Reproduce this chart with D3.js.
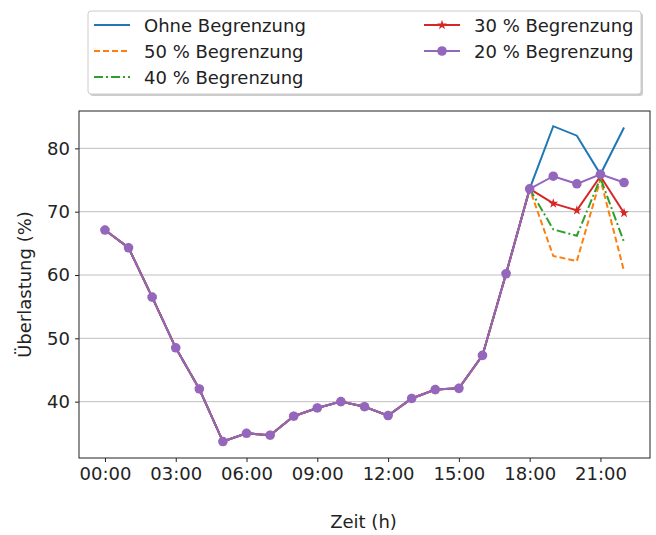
<!DOCTYPE html>
<html>
<head>
<meta charset="utf-8">
<script src="https://d3js.org/d3.v7.min.js"></script>
<style>
    html, body { margin: 0; padding: 0; background: #fff; }
    svg { display: block; font-family: "DejaVu Sans", sans-serif; }
    .grid line { stroke: #b0b0b0; stroke-width: 0.8; }
    .axis text { font-size: 18px; fill: #222; font-family: "DejaVu Sans", sans-serif; }
    .axis path, .axis line { stroke: #222; }
</style>
</head>
<body>
<div id="chart"></div>
<script>
    // hours 0..22
    var hours = d3.range(0, 23);
    var tickHours = [0, 3, 6, 9, 12, 15, 18, 21];
    var tickLabels = ["00:00", "03:00", "06:00", "09:00", "12:00", "15:00", "18:00", "21:00"];
    var yTicks = [40, 50, 60, 70, 80];

    // common part up to 18:00
    var base = [67.1, 64.3, 56.5, 48.5, 42.0, 33.7, 35.0, 34.7, 37.7, 39.0, 40.0, 39.2,
                37.8, 40.5, 41.9, 42.1, 47.3, 60.2, 73.6];
    var ohne = base.concat([83.5, 82.0, 75.9, 83.3]);
    var b50 = base.concat([63.0, 62.2, 75.1, 60.6]);
    var b40 = base.concat([67.2, 66.2, 75.3, 65.2]);
    var b30 = base.concat([71.3, 70.2, 75.6, 69.8]);
    var b20 = base.concat([75.6, 74.4, 75.9, 74.6]);

    var series = [
        {name: "Ohne Begrenzung", values: ohne, color: "#1f77b4", dash: null, marker: null},
        {name: "50 % Begrenzung", values: b50, color: "#ff7f0e", dash: "6,3", marker: null},
        {name: "40 % Begrenzung", values: b40, color: "#2ca02c", dash: "9,3,2,3", marker: null},
        {name: "30 % Begrenzung", values: b30, color: "#d62728", dash: null, marker: "star"},
        {name: "20 % Begrenzung", values: b20, color: "#9467bd", dash: null, marker: "circle"}
    ];

    var width = 656, height = 535;
    var mLeft = 79, mRight = 650, mTop = 111, mBottom = 458;

    var svg = d3.select("#chart").append("svg")
        .attr("width", width).attr("height", height);

    var x = d3.scaleLinear().domain([-1.1, 23.1]).range([mLeft, mRight]);
    var y = d3.scaleLinear().domain([31.1, 85.9]).range([mBottom, mTop]);

    // grid
    svg.append("g").attr("class", "grid")
        .selectAll("line").data(yTicks).enter().append("line")
        .attr("x1", mLeft).attr("x2", mRight)
        .attr("y1", function (d) { return y(d); })
        .attr("y2", function (d) { return y(d); });

    // axes
    var xAxis = d3.axisBottom(x).tickValues(tickHours)
        .tickFormat(function (d, i) { return tickLabels[i]; })
        .tickSize(4).tickPadding(5);
    var gx = svg.append("g").attr("class", "axis")
        .attr("transform", "translate(0," + mBottom + ")").call(xAxis);
    gx.select(".domain").remove();

    var yAxis = d3.axisLeft(y).tickValues(yTicks).tickSize(4).tickPadding(5);
    var gy = svg.append("g").attr("class", "axis")
        .attr("transform", "translate(" + mLeft + ",0)").call(yAxis);
    gy.select(".domain").remove();

    // frame
    svg.append("rect")
        .attr("x", mLeft).attr("y", mTop)
        .attr("width", mRight - mLeft).attr("height", mBottom - mTop)
        .attr("fill", "none").attr("stroke", "#222").attr("stroke-width", 1);

    var line = d3.line()
        .x(function (d, i) { return x(hours[i]); })
        .y(function (d) { return y(d); });

    var star = d3.symbol().type(d3.symbolStar).size(30);

    series.forEach(function (s) {
        svg.append("path")
            .attr("d", line(s.values))
            .attr("fill", "none")
            .attr("stroke", s.color)
            .attr("stroke-width", 2)
            .attr("stroke-dasharray", s.dash);
        if (s.marker === "circle") {
            svg.append("g").selectAll("circle").data(s.values).enter().append("circle")
                .attr("cx", function (d, i) { return x(hours[i]); })
                .attr("cy", function (d) { return y(d); })
                .attr("r", 4.8)
                .attr("fill", s.color);
        } else if (s.marker === "star") {
            svg.append("g").selectAll("path").data(s.values).enter().append("path")
                .attr("d", star)
                .attr("transform", function (d, i) {
                    return "translate(" + x(hours[i]) + "," + y(d) + ")";
                })
                .attr("fill", s.color);
        }
    });

    // axis labels
    svg.append("text")
        .attr("x", (mLeft + mRight) / 2 - 1).attr("y", 528)
        .attr("text-anchor", "middle").attr("font-size", 18).attr("fill", "#222")
        .text("Zeit (h)");
    svg.append("text")
        .attr("transform", "translate(31," + ((mTop + mBottom) / 2) + ") rotate(-90)")
        .attr("text-anchor", "middle").attr("font-size", 18).attr("fill", "#222")
        .text("Überlastung (%)");

    // legend
    var lg = svg.append("g");
    lg.append("rect")
        .attr("x", 90).attr("y", 13).attr("width", 553).attr("height", 83)
        .attr("rx", 3).attr("fill", "#999").attr("opacity", 0.5);
    lg.append("rect")
        .attr("x", 88).attr("y", 11).attr("width", 553).attr("height", 83)
        .attr("rx", 3).attr("fill", "#fff").attr("stroke", "#ccc");

    var pos = [[94, 25], [94, 51], [94, 77], [424, 25], [424, 51]];
    series.forEach(function (s, i) {
        var p = pos[i];
        var row = lg.append("g").attr("transform", "translate(" + p[0] + "," + p[1] + ")");
        row.append("line")
            .attr("x1", 0).attr("x2", 36).attr("y1", 0).attr("y2", 0)
            .attr("stroke", s.color).attr("stroke-width", 2)
            .attr("stroke-dasharray", s.dash);
        if (s.marker === "circle") {
            row.append("circle").attr("cx", 18).attr("cy", 0).attr("r", 4.8).attr("fill", s.color);
        } else if (s.marker === "star") {
            row.append("path").attr("d", star).attr("transform", "translate(18,0)").attr("fill", s.color);
        }
        row.append("text")
            .attr("x", 50).attr("y", 6.5)
            .attr("font-size", 18).attr("fill", "#222")
            .text(s.name);
    });
</script>
</body>
</html>
